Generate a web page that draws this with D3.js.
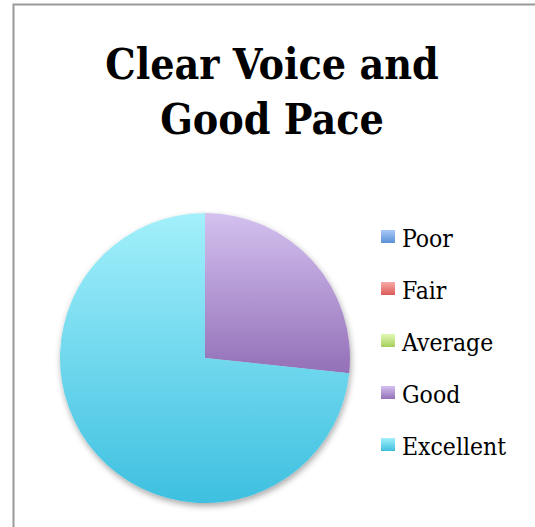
<!DOCTYPE html>
<html><head><meta charset="utf-8">
<script src="https://cdn.jsdelivr.net/npm/d3@7"></script>
<style>body{margin:0;background:#fff}svg{display:block}</style>
</head><body>
<script>
const titleLines = ["Clear Voice and", "Good Pace"];
const categories = ["Poor", "Fair", "Average", "Good", "Excellent"];
const values = [0, 0, 0, 4, 11];
const colorTop = ["#a9c9f8", "#f8aaa8", "#e2f8b4", "#d3c1ef", "#a3f0fb"];
const colorBottom = ["#5b8fd8", "#d95b58", "#a6cf5e", "#9470b8", "#3ec0e0"];

const W = 535, H = 527;
const svg = d3.select("body").append("svg").attr("width", W).attr("height", H);
const defs = svg.append("defs");

categories.forEach((c, i) => {
  const g = defs.append("linearGradient").attr("id", "g" + i)
    .attr("x1", 0).attr("y1", 0).attr("x2", 0).attr("y2", 1);
  g.append("stop").attr("offset", "0%").attr("stop-color", colorTop[i]);
  g.append("stop").attr("offset", "100%").attr("stop-color", colorBottom[i]);
});
const f = defs.append("filter").attr("id", "sh").attr("x", "-20%").attr("y", "-20%").attr("width", "140%").attr("height", "140%");
f.append("feDropShadow").attr("dx", 1).attr("dy", 3).attr("stdDeviation", 3).attr("flood-color", "#000").attr("flood-opacity", 0.35);

// frame
svg.append("path").attr("d", `M13.5,${H} L13.5,4.5 L${W},4.5`).attr("fill", "none").attr("stroke", "#9a9a9a").attr("stroke-width", 2);

// title
const fontSerif = "'DejaVu Serif Condensed','DejaVu Serif',serif";
const ty = d3.scalePoint().domain(titleLines).range([79, 134]);
svg.append("g").selectAll("text").data(titleLines).join("text")
  .attr("x", 272).attr("y", d => ty(d)).attr("text-anchor", "middle")
  .attr("font-family", fontSerif).attr("font-stretch", "condensed").attr("font-weight", "bold").attr("font-size", 42.5)
  .attr("fill", "#000").text(d => d);

// pie
const cx = 205, cy = 358, R = 145;
const data = categories.map((c, i) => ({ c, v: values[i], i }));
const pie = d3.pie().sort(null).value(d => d.v);
const arc = d3.arc().innerRadius(0).outerRadius(R);
const pg = svg.append("g").attr("transform", `translate(${cx},${cy})`).attr("filter", "url(#sh)");
pg.selectAll("path").data(pie(data).filter(d => d.data.v > 0)).join("path")
  .attr("d", arc).attr("fill", d => `url(#g${d.data.i})`);

// legend
const ly = d3.scalePoint().domain(categories).range([247, 455]);
const lg = svg.append("g");
lg.selectAll("rect").data(categories).join("rect")
  .attr("x", 381).attr("y", d => ly(d) - 17).attr("width", 14).attr("height", 13)
  .attr("fill", (d, i) => `url(#g${i})`);
lg.selectAll("text").data(categories).join("text")
  .attr("x", 402).attr("y", d => ly(d))
  .attr("font-family", fontSerif).attr("font-stretch", "condensed").attr("font-size", 24.5).attr("fill", "#000")
  .text(d => d);
</script>
</body></html>
